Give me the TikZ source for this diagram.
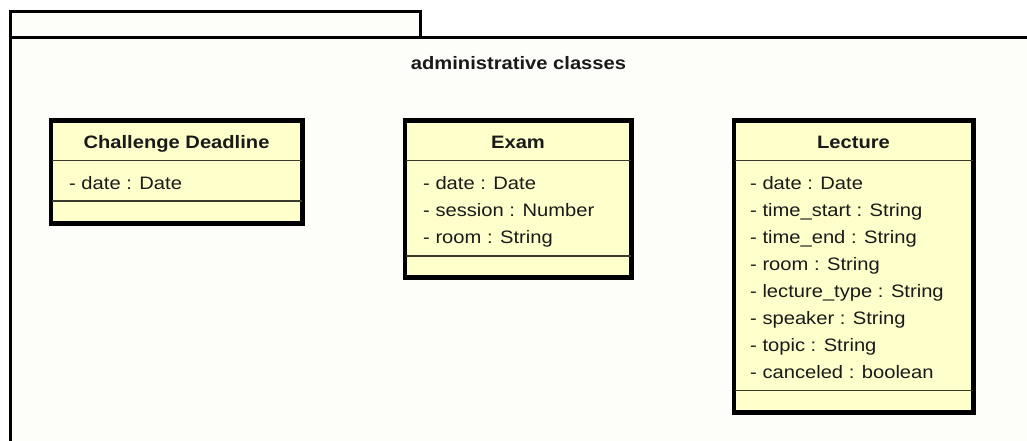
\documentclass[tikz,border=0pt]{standalone}
\usepackage{fontspec}
\setmainfont{Liberation Sans}[FakeStretch=1.12]
\usetikzlibrary{calc}
\definecolor{pkgfill}{HTML}{FDFDFA}
\definecolor{classfill}{HTML}{FFFFCC}
\definecolor{sepcol}{HTML}{3A3A2C}
\definecolor{inkcol}{HTML}{1A1A1A}
\begin{document}
\begin{tikzpicture}[x=1pt,y=-1pt,
  pkgline/.style={draw=black,line width=3pt},
  classbox/.style={rectangle,draw=black,line width=3pt,fill=classfill,inner sep=0pt,anchor=north west},
  sepline/.style={draw=sepcol,line width=1.2pt},
  ctitle/.style={anchor=base,inner sep=0pt,text=inkcol,font=\bfseries\fontsize{18}{22}\selectfont},
  attr/.style={anchor=base west,inner sep=0pt,text=inkcol,font=\fontsize{18}{22}\selectfont}]
\useasboundingbox (0,0) rectangle (1027,441);
\fill[white] (0,0) rectangle (1027,441);

% package: tab and body
\fill[pkgfill] (10,12) rectangle (420,38);
\fill[pkgfill] (10,38) rectangle (1030,445);
\draw[pkgline] (10,38) rectangle (420,12);
\draw[pkgline] (10,445) -- (10,38) -- (1030,38);
\node[anchor=base,inner sep=0pt,text=inkcol,font=\bfseries\fontsize{18}{22}\selectfont] (pkgtitle) at (518.5,69.5) {administrative classes};

% class Challenge Deadline
\node[classbox,minimum width=250pt,minimum height=101pt] (cd) at (50,120) {};
\draw[sepline] ($(cd.north west)+(0,40.5)$) -- ($(cd.north east)+(0,40.5)$);
\draw[sepline] ($(cd.north west)+(0,81)$) -- ($(cd.north east)+(0,81)$);
\draw[draw=black,line width=3pt] (cd.north west) rectangle (cd.south east);
\node[ctitle] (cd-title) at ($(cd.north)+(0,28.5)$) {Challenge Deadline};
\node[attr] (cd-a1) at ($(cd.north west)+(19,69.5)$) {- date : Date};

% class Exam
\node[classbox,minimum width=225pt,minimum height=155pt] (ex) at (404,120) {};
\draw[sepline] ($(ex.north west)+(0,40.5)$) -- ($(ex.north east)+(0,40.5)$);
\draw[sepline] ($(ex.north west)+(0,136)$) -- ($(ex.north east)+(0,136)$);
\draw[draw=black,line width=3pt] (ex.north west) rectangle (ex.south east);
\node[ctitle] (ex-title) at ($(ex.north)+(0,28.5)$) {Exam};
\foreach \t [count=\i from 0] in {{- date : Date},{- session : Number},{- room : String}}
  \node[attr] (ex-a\i) at ($(ex.north west)+(19,69.5+27*\i)$) {\t};

% class Lecture
\node[classbox,minimum width=238pt,minimum height=290pt] (le) at (733,120) {};
\draw[sepline] ($(le.north west)+(0,40.5)$) -- ($(le.north east)+(0,40.5)$);
\draw[sepline] ($(le.north west)+(0,270.5)$) -- ($(le.north east)+(0,270.5)$);
\draw[draw=black,line width=3pt] (le.north west) rectangle (le.south east);
\node[ctitle] (le-title) at ($(le.north)+(0,28.5)$) {Lecture};
\foreach \t [count=\i from 0] in {{- date : Date},{- time\_start : String},{- time\_end : String},{- room : String},{- lecture\_type : String},{- speaker : String},{- topic : String},{- canceled : boolean}}
  \node[attr] (le-a\i) at ($(le.north west)+(17,69.5+27*\i)$) {\t};
\end{tikzpicture}
\end{document}
